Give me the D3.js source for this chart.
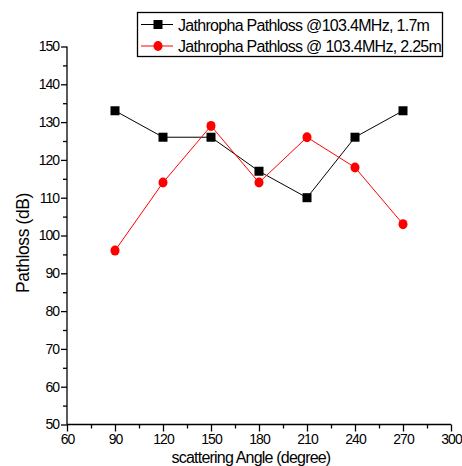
<!DOCTYPE html>
<html><head><meta charset="utf-8">
<script src="https://cdn.jsdelivr.net/npm/d3@7"></script>
<style>
body{margin:0;background:#fff;}
text{font-family:"Liberation Sans",Arial,sans-serif;fill:#000;}
</style></head>
<body><svg id="chart" width="462" height="466"></svg>
<script>
const angles = [90, 120, 150, 180, 210, 240, 270];
const series1Name = "Jathropha Pathloss @103.4MHz, 1.7m";
const series1 = [133, 126, 126, 117, 110, 126, 133];
const series2Name = "Jathropha Pathloss @ 103.4MHz, 2.25m";
const series2 = [96, 114, 129, 114, 126, 118, 103];
const xTicks = [60, 90, 120, 150, 180, 210, 240, 270, 300];
const yTicks = [50, 60, 70, 80, 90, 100, 110, 120, 130, 140, 150];
const xTitle = "scattering Angle (degree)";
const yTitle = "Pathloss (dB)";

const svg = d3.select("#chart");
const x = d3.scaleLinear().domain([60, 300]).range([67, 451]);
const y = d3.scaleLinear().domain([50, 150]).range([424.5, 46.5]);

// minor ticks
const xMinor = d3.range(75, 300, 30);
const yMinor = d3.range(55, 150, 10);

const xAxis = svg.append("g").attr("transform", "translate(0,424.5)")
  .call(d3.axisBottom(x).tickValues(xTicks).tickSize(7).tickPadding(3).tickFormat(d3.format("d")));
xAxis.select(".domain").attr("d", `M${x(60)},0H${x(300)}`);
xAxis.selectAll("text").attr("font-size", 14).attr("font-family", "Liberation Sans, Arial, sans-serif").attr("letter-spacing", -1);
svg.append("g").attr("transform", "translate(0,424.5)")
  .call(d3.axisBottom(x).tickValues(xMinor).tickSize(4).tickFormat(""))
  .select(".domain").remove();

const yAxis = svg.append("g").attr("transform", "translate(67,0)")
  .call(d3.axisLeft(y).tickValues(yTicks).tickSize(6).tickPadding(2).tickFormat(d3.format("d")));
yAxis.select(".domain").attr("d", `M0,${y(50)}V${y(150)}`);
yAxis.selectAll("text").attr("font-size", 14).attr("font-family", "Liberation Sans, Arial, sans-serif").attr("letter-spacing", -1);
svg.append("g").attr("transform", "translate(67,0)")
  .call(d3.axisLeft(y).tickValues(yMinor).tickSize(4).tickFormat(""))
  .select(".domain").remove();

svg.selectAll(".domain, .tick line").attr("stroke", "#000").attr("stroke-width", 1.3);

// titles
svg.append("text").attr("x", 251).attr("y", 463).attr("text-anchor", "middle")
  .attr("font-size", 16).attr("letter-spacing", -0.8).text(xTitle);
svg.append("text").attr("transform", "translate(29,243) rotate(-90)").attr("text-anchor", "middle")
  .attr("font-size", 17.5).attr("letter-spacing", -0.4).text(yTitle);

const line = d3.line().x((d, i) => x(angles[i])).y(d => y(d));

svg.append("path").datum(series1).attr("d", line).attr("fill", "none").attr("stroke", "#000").attr("stroke-width", 1);
svg.append("path").datum(series2).attr("d", line).attr("fill", "none").attr("stroke", "#ff0000").attr("stroke-width", 1);

svg.selectAll(".sq").data(series1).enter().append("rect")
  .attr("x", (d, i) => x(angles[i]) - 4.5).attr("y", d => y(d) - 4.5)
  .attr("width", 9).attr("height", 9).attr("fill", "#000");
svg.selectAll(".ci").data(series2).enter().append("ellipse")
  .attr("cx", (d, i) => x(angles[i])).attr("cy", d => y(d))
  .attr("rx", 4.5).attr("ry", 5).attr("fill", "#ff0000");

// legend
const lg = svg.append("g");
lg.append("rect").attr("x", 137.5).attr("y", 12.5).attr("width", 305).attr("height", 44)
  .attr("fill", "#fff").attr("stroke", "#000").attr("stroke-width", 1.3);
const items = [{name: series1Name, color: "#000", shape: "sq", yy: 24.5},
               {name: series2Name, color: "#ff0000", shape: "ci", yy: 46}];
items.forEach(it => {
  lg.append("line").attr("x1", 141).attr("x2", 173).attr("y1", it.yy).attr("y2", it.yy)
    .attr("stroke", it.color).attr("stroke-width", 1);
  if (it.shape === "sq") lg.append("rect").attr("x", 153.5).attr("y", it.yy - 4.5).attr("width", 9).attr("height", 9).attr("fill", it.color);
  else lg.append("ellipse").attr("cx", 158).attr("cy", it.yy).attr("rx", 4.5).attr("ry", 5).attr("fill", it.color);
  lg.append("text").attr("x", 178).attr("y", it.yy + 6).attr("font-size", 16).attr("letter-spacing", -0.7).text(it.name);
});
</script></body></html>
